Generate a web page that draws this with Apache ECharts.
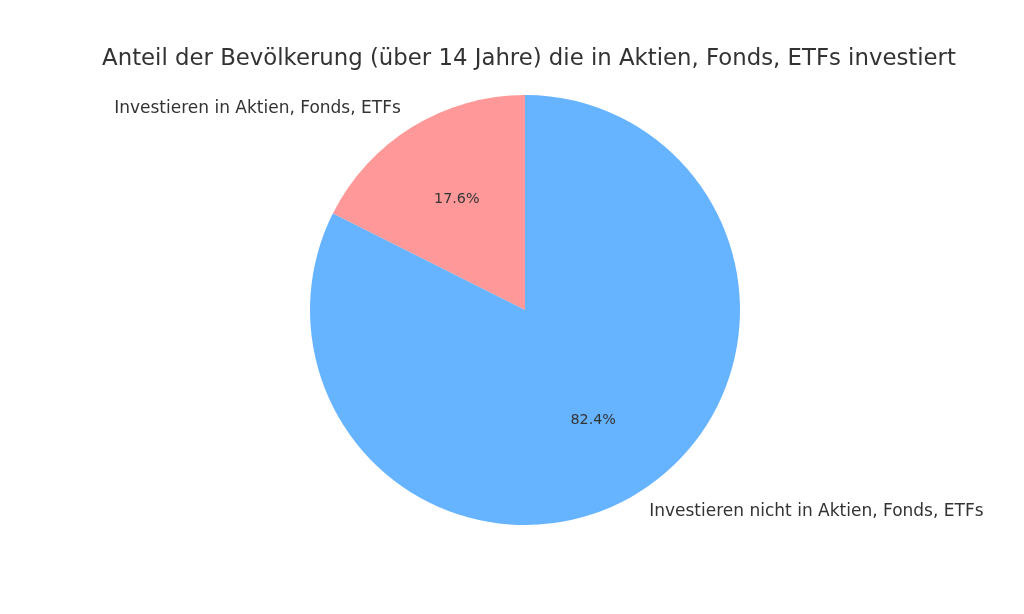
<!DOCTYPE html>
<html>
<head>
<meta charset="utf-8">
<script src="https://cdn.jsdelivr.net/npm/echarts@6/dist/echarts.min.js"></script>
<style>html,body{margin:0;padding:0;background:#fff;}#chart{width:1024px;height:614px;}</style>
</head>
<body>
<div id="chart"></div>
<script>
const titleText = 'Anteil der Bevölkerung (über 14 Jahre) die in Aktien, Fonds, ETFs investiert';
const categories = ['Investieren in Aktien, Fonds, ETFs', 'Investieren nicht in Aktien, Fonds, ETFs'];
const values = [17.6, 82.4];
const colors = ['#ff9999', '#66b3ff'];

const R = 215;
const center = [525, 310];
const font = 'DejaVu Sans';
const textColor = '#333333';

const mainData = categories.map((c, i) => ({ name: c, value: values[i], itemStyle: { color: colors[i] } }));
const pctData = categories.map((c, i) => ({ name: c, value: values[i] }));

const chart = echarts.init(document.getElementById('chart'), null, { renderer: 'canvas' });
chart.setOption({
  backgroundColor: '#ffffff',
  animation: false,
  title: {
    text: titleText,
    left: 524,
    top: 43,
    textAlign: 'center',
    textStyle: { fontFamily: font, fontSize: 22.8, fontWeight: 'normal', color: textColor }
  },
  series: [
    {
      type: 'pie',
      center: center,
      radius: [0, R],
      startAngle: 90,
      clockwise: false,
      avoidLabelOverlap: false,
      silent: true,
      data: mainData,
      label: {
        show: true,
        position: 'outside',
        formatter: '{b}',
        fontFamily: font,
        fontSize: 17,
        color: textColor,
        distanceToLabelLine: 0
      },
      labelLine: { show: false, length: R * 0.1, length2: 0 },
      itemStyle: { borderWidth: 0 }
    },
    {
      type: 'pie',
      center: center,
      radius: [R * 0.18, R],
      startAngle: 90,
      clockwise: false,
      avoidLabelOverlap: false,
      silent: true,
      data: pctData,
      itemStyle: { color: 'rgba(0,0,0,0)', borderWidth: 0 },
      label: {
        show: true,
        position: 'inside',
        formatter: (p) => p.value.toFixed(1) + '%',
        fontFamily: font,
        fontSize: 14.3,
        color: textColor
      },
      labelLine: { show: false }
    }
  ]
});
</script>
</body>
</html>
